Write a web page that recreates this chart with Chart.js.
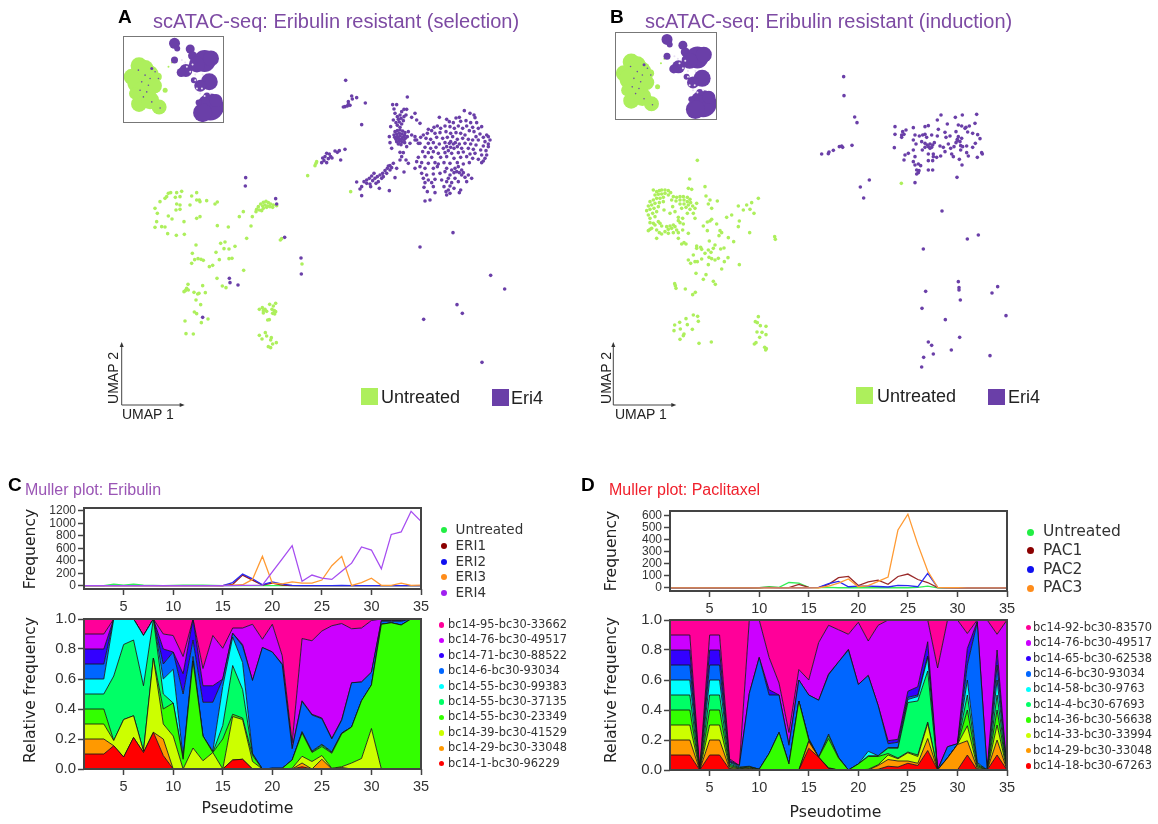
<!DOCTYPE html>
<html><head><meta charset="utf-8">
<script src="https://cdn.jsdelivr.net/npm/chart.js@4/dist/chart.umd.js"></script>
<style>
html,body{margin:0;padding:0;background:#fff;width:1158px;height:824px;overflow:hidden}
#root{position:relative;width:1158px;height:824px;filter:blur(.4px)}
canvas{position:absolute}
.t{position:absolute;white-space:nowrap;line-height:1}
.s{position:absolute}
</style></head><body><div id="root"></div>
<script>
// ---------- Pseudotime axis ----------
const pseudotime=[1,2,3,4,5,6,7,8,9,10,11,12,13,14,15,16,17,18,19,20,21,22,23,24,25,26,27,28,29,30,31,32,33,34,35];
const xTickValues=[5,10,15,20,25,30,35];

// ---------- Panel C frequency series ----------
const eriUntreated=[0,0,0,25,10,25,10,5,2,5,10,8,10,5,2,2,1,1,0,0,0,0,0,0,0,0,0,0,0,0,0,0,0,0,0];
const eri1=[0,0,0,0,0,0,0,0,0,0,0,0,0,0,0,20,170,90,10,40,10,2,0,0,0,0,0,0,0,0,0,0,0,0,0];
const eri2=[0,0,0,0,0,0,0,0,0,0,0,0,0,0,0,50,185,110,15,60,25,5,2,2,2,2,5,2,2,2,2,2,2,2,2];
const eri3=[0,0,0,0,0,0,0,0,0,0,0,0,0,0,2,10,15,100,470,40,30,60,40,40,90,320,470,5,50,120,5,5,40,5,10];
const eri4=[0,0,0,0,0,0,0,0,0,0,0,0,0,0,0,0,5,5,10,220,430,640,70,170,120,100,230,360,620,570,270,820,860,1190,1030];
const cFreqTicks=[0,200,400,600,800,1000,1200];
const cFreqLabels=['Untreated','ERI1','ERI2','ERI3','ERI4'];

// ---------- Panel C Muller band upper edges (relative frequency) ----------
const cTopRed=[.1,.1,.1,.155,.08,.21,.11,.245,.09,0,0,0,0,0,0,.06,.065,0,0,0,0,0,.015,0,0,0,0,0,0,0,0,0,0,0,0];
const cTopOrange=[.2,.2,.2,.155,.08,.21,.11,.245,.2,0,0,0,0,0,0,.06,.065,0,0,0,0,0,.04,0,.065,0,.01,0,0,0,0,0,0,0,0];
const cTopYellow=[.3,.3,.3,.19,.33,.355,.12,.74,.3,.22,0,.14,.055,.11,0,.35,.33,.05,0,0,0,.005,.085,.05,.09,.005,.015,.04,.07,.27,0,0,0,0,0];
const cTopGreen=[.4,.4,.4,.19,.33,.355,.12,.74,.4,.44,.065,.72,.22,.11,.2,.365,.34,.09,0,.005,.005,.06,.24,.11,.15,.105,.235,.28,.455,.56,.965,.975,.96,1,1];
const cTopSpring=[.5,.5,.5,.62,.83,.86,.555,1,.5,.44,.07,.72,.22,.11,.29,.69,.53,.1,0,.005,.005,.06,.245,.115,.16,.11,.24,.28,.455,.56,.965,.975,.96,1,1];
const cTopCyan=[.6,.6,.6,1,1,1,.89,1,.6,.665,.075,.75,.22,.12,.55,.88,.71,.105,0,.005,.005,.06,.25,.12,.165,.115,.24,.28,.455,.56,.965,.975,.96,1,1];
const cTopBlue=[.7,.7,.7,1,1,1,.89,1,.7,.78,.5,.86,.445,.445,.6,.905,.82,.59,.81,.78,.695,.135,.45,.36,.335,.2,.325,.575,.58,.645,.985,.985,.985,1,1];
const cTopIndigo=[.8,.8,.8,1,1,1,.89,1,.8,.78,.635,1,.555,.555,.6,.905,.83,.59,.81,.78,.7,.14,.455,.365,.34,.205,.33,.575,.58,.645,.99,.99,.99,1,1];
const cTopPurple=[.9,.9,.9,1,1,1,.89,1,.9,.89,.75,1,.67,.89,.805,.94,.94,.965,.865,.965,.755,.175,.87,.855,.92,.955,.97,.935,.94,.99,1,1,1,1,1];
const cTopPink=[1,1,1,1,1,1,1,1,1,1,1,1,1,1,1,1,1,1,1,1,1,1,1,1,1,1,1,1,1,1,1,1,1,1,1];
const cBarcodes=['bc14-95-bc30-33662','bc14-76-bc30-49517','bc14-71-bc30-88522','bc14-6-bc30-93034','bc14-55-bc30-99383','bc14-55-bc30-37135','bc14-55-bc30-23349','bc14-39-bc30-41529','bc14-29-bc30-33048','bc14-1-bc30-96229'];

// ---------- Panel D frequency series ----------
const pacUntreated=[0,0,0,2,0,0,0,0,0,2,10,5,45,40,5,3,5,2,2,2,2,2,2,2,2,5,15,0,0,0,0,0,0,0,0];
const pac1=[0,0,0,0,0,0,0,0,0,2,5,3,3,30,5,3,30,85,95,20,50,65,30,95,115,70,45,3,3,2,0,0,2,0,0];
const pac2=[0,0,0,0,0,0,0,0,0,3,3,2,2,2,2,5,35,55,10,15,15,12,8,22,20,10,120,5,2,2,2,2,2,2,2];
const pac3=[0,0,0,0,0,0,0,0,0,0,0,0,0,0,0,2,15,40,75,10,20,55,90,480,610,360,140,5,2,2,0,0,0,0,0];
const dFreqTicks=[0,100,200,300,400,500,600];
const dFreqLabels=['Untreated','PAC1','PAC2','PAC3'];

// ---------- Panel D Muller band upper edges ----------
const dTopRed=[.1,.1,.1,0,.1,.1,.005,0,.005,0,0,0,0,0,.145,.085,.01,0,0,0,0,.005,.025,.02,.045,.03,.13,0,0,0,.1,0,0,.1,0];
const dTopOrange=[.2,.2,.2,0,.2,.2,.01,.005,.01,0,0,0,0,0,.19,.085,.01,0,0,0,0,.03,.07,.06,.06,.045,.21,0,.08,.17,.195,.01,0,.2,0];
const dTopYellow=[.3,.3,.3,0,.3,.3,.02,.008,.015,0,0,0,0,0,.195,.085,.015,0,0,0,.005,.035,.1,.075,.115,.09,.31,0,.08,.17,.295,.02,0,.3,0];
const dTopGreen=[.4,.4,.4,0,.4,.4,.03,.012,.02,.005,.11,.25,.04,.46,.2,.085,.21,.08,0,.04,.09,.09,.11,.08,.12,.1,.32,0,.08,.17,.4,.03,0,.4,0];
const dTopSpring=[.5,.5,.5,0,.5,.5,.04,.016,.022,.005,.11,.25,.04,.46,.205,.085,.23,.085,0,.04,.095,.095,.145,.145,.45,.46,.66,0,.08,.17,.5,.04,0,.5,0];
const dTopCyan=[.6,.6,.6,0,.6,.6,.05,.02,.025,.005,.11,.25,.04,.46,.21,.085,.24,.085,0,.04,.125,.095,.15,.15,.47,.49,.75,0,.08,.17,.6,.05,0,.6,0];
const dTopBlue=[.7,.7,.7,0,.7,.7,.055,.03,.51,.75,.5,.5,.165,.6,.5,.465,.635,.72,.8,.57,.63,.43,.175,.185,.485,.5,.76,0,.155,.175,.7,.985,0,.7,0];
const dTopIndigo=[.8,.8,.8,0,.8,.8,.065,.03,.51,.75,.535,.5,.17,.6,.5,.465,.64,.72,.805,.57,.63,.43,.195,.205,.525,.555,.855,.005,.155,.175,.81,.99,.005,.8,0];
const dTopPurple=[.9,.9,.9,0,.9,.9,.075,.03,1,1,.75,.58,.25,.67,.6,.85,.965,.935,.905,.985,.86,.965,1,1,1,1,1,.68,1,1,.91,1,1,.905,1];
const dTopPink=[1,1,1,1,1,1,1,1,1,1,1,1,1,1,1,1,1,1,1,1,1,1,1,1,1,1,1,1,1,1,1,1,1,1,1];
const dBarcodes=['bc14-92-bc30-83570','bc14-76-bc30-49517','bc14-65-bc30-62538','bc14-6-bc30-93034','bc14-58-bc30-9763','bc14-4-bc30-67693','bc14-36-bc30-56638','bc14-33-bc30-33994','bc14-29-bc30-33048','bc14-18-bc30-67263'];

const relTicks=[0,.2,.4,.6,.8,1];
const bandColors=['#ff0000','#ff9900','#ccff00','#33ff00','#00ff66','#00ffff','#0066ff','#3300ff','#cc00ff','#ff0099'];

// ---------- UMAP panel A cells ----------
const aEri4=[[737,241],[755,288],[770,293],[757,297],[745,305],[735,320],[742,318],[750,316],[730,321],[745,313],[796,309],[785,374],[922,291],
[735,448],[718,452],[712,457],[705,453],[722,480],[688,462],[680,460],[675,470],[668,474],[692,470],[685,476],[672,482],[680,488],[665,488],[696,474],
[770,546],[785,560],[780,567],[785,587],[792,545],[800,540],[808,535],[815,528],[822,520],[800,550],[810,552],[818,542],[825,535],[832,530],[812,560],[840,525],[848,520],[855,512],[862,505],[870,497],[880,490],[860,520],[870,510],[850,530],[845,535],[835,545],[828,550],[865,498],[875,503],[838,565],[868,572],[885,533],[890,505],[912,516],[900,480],[918,480],[925,490],[905,470],
[885,395],[892,392],[900,390],[908,393],[915,398],[882,405],[890,402],[898,400],[906,402],[914,406],[922,410],[884,412],[892,410],[900,408],[908,412],[916,415],[888,418],[896,416],[904,418],[912,420],[890,425],[898,424],[906,426],[914,428],[895,432],[903,434],[900,382],[892,376],[905,372],[898,366],[910,362],[895,358],[888,368],[903,355],[912,350],[900,345],[892,350],[885,340],[905,335],[920,328],[878,314],[890,314],[882,327],[912,328],[918,345],[935,352],[945,340],[950,360],[960,370],[872,380],[880,360],[868,410],[870,428],[875,445],[925,395],[935,405],[945,420],[930,430],[920,440],[910,458],[900,457],[945,410],[955,430],
[1093,332],[1110,340],[1122,345],[1125,353],[1018,352],[1040,358],[1048,365],[1068,354],[1078,352],[1060,368],[1082,364],[1098,362],[1112,368],[1130,368],[1145,380],
[1002,382],[1012,378],[985,388],[995,392],[1022,385],[1035,378],[1050,380],[1063,385],[1075,378],[1088,385],[1100,378],[1118,382],[1135,385],[1122,395],[1108,392],
[970,405],[982,400],[1005,400],[1020,398],[1038,395],[1052,400],[1068,398],[1082,400],[1095,405],[1140,402],[1128,410],[1160,405],[1165,410],[1150,412],
[950,420],[962,412],[978,415],[992,418],[1010,412],[1028,415],[1042,412],[1058,410],[1072,418],[1088,415],[1105,418],[1118,420],[1135,420],[1170,420],[1155,425],[1165,432],
[960,430],[985,430],[1000,428],[1018,432],[1035,428],[1048,430],[1052,425],[1060,432],[1066,428],[1078,432],[1095,430],[1112,432],[1128,435],[1150,438],[1165,440],
[975,442],[992,445],[1008,442],[1030,445],[1040,440],[1052,442],[1062,445],[1072,440],[1085,445],[1105,445],[1120,448],[1142,450],[1158,452],
[968,455],[985,458],[1000,455],[1015,460],[1035,458],[1045,452],[1055,460],[1075,458],[1090,456],[1110,462],[1125,460],[1145,465],[1160,465],
[955,472],[975,470],[995,472],[1022,472],[1040,470],[1062,475],[1082,472],[1100,470],[1118,475],[1135,478],[1155,475],[1150,483],[1145,488],
[950,485],[965,488],[985,490],[1005,488],[1015,492],[1032,488],[1050,490],[1072,488],[1090,492],[1108,488],
[945,505],[960,500],[975,505],[1000,505],[1012,500],[1040,505],[1055,510],[1065,505],[1075,500],[1085,510],[1070,515],[1078,518],[1062,518],[1090,518],
[965,520],[980,525],[1000,522],[1020,520],[1035,515],[1050,525],[1085,525],[1105,525],
[970,535],[985,540],[1005,538],[1025,540],[1045,535],[1065,535],[1095,532],[1115,535],
[975,548],[995,548],[1040,545],[1055,548],[1075,545],[1100,545],
[972,562],[1000,560],[1032,560],[1050,558],[1062,565],[1045,570],[1038,575],[1082,570],[1078,578],
[982,575],[1005,578],[1040,585],[1050,580],[975,603],[990,600],
[437,533],[436,558],[527,596],[530,612],[554,712],[603,774],[604,822],[388,835],[390,848],[414,855],[308,952],[1059,698],[960,741],[1172,826],[1214,867],[1071,914],[1087,940],[971,958],[1146,1087]];
const aUntreated=[[648,490],[645,497],[650,485],[623,527],[752,575],
[470,628],[475,620],[482,612],[490,607],[498,604],[505,608],[512,612],[520,615],[530,617],[488,618],[495,615],[503,618],[478,630],[490,625],[500,622],[510,620],[518,622],[468,635],[485,632],
[430,635],[418,650],[457,650],[453,678],[385,681],[352,677],
[165,625],[180,605],[195,595],[205,580],[212,578],[200,590],[230,578],[245,574],[240,590],[226,592],[290,578],[275,588],[290,600],[298,600],[300,605],[270,615],[230,612],[240,615],[320,602],[345,612],[352,606],[172,640],[205,648],[228,630],[240,628],[216,657],[252,665],[290,655],[300,650],[170,665],[165,682],[185,680],[195,681],
[203,701],[229,706],[253,703],[440,715],[541,720],[545,716],[288,735],[375,726],[362,730],[405,739],[372,746],[387,747],[277,760],[348,757],[387,776],[396,775],[358,779],[284,779],[294,776],[303,778],[310,781],[275,790],[338,796],[328,800],[431,811],[606,792],[351,835],[308,857],[367,858],[378,863],[264,853],[260,865],[252,875],[256,872],[265,870],[282,877],[293,882],[297,880],[316,878],[288,900],[302,914],[283,936],[290,941],[255,963],[304,968],[324,957],[258,1001],[280,1002],
[478,928],[487,923],[490,932],[495,928],[500,934],[490,939],[509,913],[527,910],[520,918],[516,928],[523,932],[527,935],[518,940],[524,942],[503,960],[508,959],
[478,1006],[496,998],[500,1008],[486,1017],[514,1013],[512,1020],[518,1032],[529,1028],[505,1040],[512,1043]];

// ---------- UMAP panel B cells ----------
const bEri4=[[731,230],[732,287],[764,351],[771,368],[756,436],[725,438],[718,440],[728,442],[700,451],[687,456],[685,461],[665,462],[808,540],[781,561],[791,594],[1026,633],[945,548],[1071,532],
[1023,345],[1066,352],[1087,345],[1130,343],[1125,370],[1012,360],[985,377],[975,380],[1042,372],[1015,388],[1075,375],[1085,378],[1095,385],[1108,378],[1098,382],[885,380],[918,390],[908,395],[940,383],[885,403],[905,405],[912,403],[905,412],[1035,397],[1068,395],[1103,396],[1118,400],[1133,404],[1140,416],[945,405],[958,408],[968,405],[975,403],[980,412],[995,405],[1012,408],[1038,412],[1050,408],[1075,410],[1085,415],[1072,418],[1080,425],[1068,428],[1072,422],[1126,430],[883,443],[940,420],[948,432],[965,425],[975,430],[982,435],[990,432],[998,435],[1003,428],[985,440],[975,442],[990,445],[995,442],[1020,438],[1030,442],[1045,432],[1052,445],[1062,440],[1082,437],[1100,438],[1118,442],[1088,440],[940,450],[925,460],[915,465],[912,480],[945,470],[967,450],[985,462],[1000,470],[1010,472],[1022,468],[1035,455],[1055,462],[1060,470],[1082,450],[1100,458],[1105,468],[1132,472],[1145,458],[1147,462],[1078,478],[985,482],[998,482],[940,485],[945,495],[955,492],[962,497],[1086,495],[950,510],[957,512],[955,518],[950,522],[985,510],[998,510],[1000,462],
[1135,705],[1102,717],[970,747],[1075,845],[1077,863],[1077,870],[977,874],[1176,879],[1193,860],[1081,900],[966,925],[1218,947],[1036,959],[1079,1012],[985,1026],[995,1036],[1054,1050],[1000,1062],[971,1072],[1170,1067],[965,1101]];
const bUntreated=[[292,481],[269,537],[904,550],[265,565],[275,568],[315,560],[318,588],[330,600],[352,603],[325,612],[335,625],[475,595],[455,608],[440,615],[415,618],[430,630],[450,628],[462,640],[395,645],[380,652],[335,658],
[160,570],[170,575],[178,572],[185,570],[195,570],[205,572],[212,578],[165,585],[175,583],[185,582],[195,580],[205,585],[220,590],[230,592],[240,590],[250,590],[262,592],[270,598],[150,605],[160,600],[170,595],[180,595],[190,592],[215,600],[228,603],[240,600],[252,600],[262,605],[272,608],[145,618],[155,615],[165,610],[178,608],[190,605],[240,612],[252,612],[265,615],[278,618],[290,610],[140,632],[150,628],[162,625],[175,620],[245,625],[258,622],[270,628],[285,625],[145,645],[158,640],[170,635],[192,630],[218,620],[210,640],[225,635],[262,640],[280,640],[150,655],[165,650],[235,652],[248,655],[285,655],
[150,688],[145,692],[155,685],[160,670],[150,668],[165,675],[175,665],[180,670],[185,678],[170,690],[178,698],[185,702],[170,715],[200,680],[205,688],[210,678],[215,685],[220,675],[225,680],[230,690],[235,698],[235,715],[195,695],[205,700],[220,698],[240,668],[235,662],[250,672],[248,690],[265,700],[310,678],[322,666],[330,663],[350,672],[322,692],[360,692],[365,698],[357,707],[415,680],[418,663],[449,698],[524,710],[526,718],
[245,732],[252,728],[258,732],[328,723],[385,713],[401,725],[290,738],[302,742],[290,745],[305,748],[345,735],[340,745],[325,750],[333,757],[315,760],[362,747],[372,744],[280,765],[305,777],[265,780],[272,790],[285,785],[292,785],[327,772],[335,776],[345,780],[355,775],[384,773],[373,785],[325,794],[418,794],[365,807],[288,820],[318,824],[310,838],[340,844],[346,853],
[224,851],[226,857],[228,865],[256,867],[278,884],[286,877],
[280,945],[293,949],[258,956],[239,967],[295,964],[224,975],[262,974],[241,987],[277,988],[222,992],[252,1002],[250,1007],[240,1018],[297,1030],[334,1026],
[475,950],[466,965],[472,968],[481,977],[498,979],[471,996],[486,997],[498,1004],[479,1012],[468,1028],[463,1032],[494,1042],[497,1050],[499,1046]];

// ---------- Inset thumbnails: estimated cell masses (UMAP position, radius) ----------
const insetGreenMasses=[[72,122,8.5],[50,155,8],[70,172,11],[100,150,10.5],[88,200,11.5],[72,236,8],[105,225,9],[132,245,7.5],[118,182,7.5],[128,155,4],[90,130,8.5],[60,205,6],[150,195,2.5],[160,125,1],[170,112,1]];
const insetPurpleMasses=[[178,55,5.5],[186,70,3],[225,72,4.5],[232,92,4.5],[268,108,11],[245,118,8],[287,100,8],[212,136,6.5],[198,142,4.5],[178,105,3.5],[282,170,8.5],[255,182,6],[236,165,3],[285,245,13.5],[262,262,9.5],[302,226,6.5],[250,232,3],[275,212,3.5],[110,130,1.5]];
const insetSpecks=[[80,170],[95,200],[85,215],[100,180],[90,150],[75,195],[105,160],[130,160],[70,135],[110,230],[120,140],[135,248]];
const insetGaps=[[240,165],[255,205],[268,212],[285,205],[245,190],[225,140],[215,125],[232,118],[260,190],[262,148],[240,148],[200,105],[210,112]];

// ---------- Colours ----------
const umapGreen='#adef5c', umapPurple='#6a3fa8', ink='#444';

const root=document.getElementById('root');
function txt(s,x,y,o={}){
  const e=document.createElement('div');e.className='t';e.textContent=s;
  e.style.left=x+'px';e.style.top=y+'px';
  e.style.fontFamily=o.font||'"Liberation Sans"';e.style.fontSize=(o.size||14)+'px';
  e.style.color=o.color||'#222';e.style.fontWeight=o.bold?'700':'400';
  e.style.transform=o.rotate?'translate(-50%,-50%) rotate(-90deg)':(o.center?'translate(-50%,-50%)':'translateY(-50%)');
  root.appendChild(e);
}
function box(x,y,w,h,c,round){
  const e=document.createElement('div');e.className='s';
  e.style.cssText+=`left:${x}px;top:${y}px;width:${w}px;height:${h}px;background:${c};`+(round?'border-radius:50%;':'');
  root.appendChild(e);
}
function canvas(x,y,w,h){
  const c=document.createElement('canvas');c.width=w;c.height=h;
  c.style.left=x+'px';c.style.top=y+'px';c.style.width=w+'px';c.style.height=h+'px';
  root.appendChild(c);return c;
}
const frame=(color,width)=>({id:'frame',afterDraw(ch){const a=ch.chartArea,g=ch.ctx;g.save();g.strokeStyle=color;g.lineWidth=width;g.strokeRect(a.left,a.top,a.right-a.left,a.bottom-a.top);g.restore();}});

function plot(area,datasets,yCfg){
  const L=60,R=30,T=20,B=40;
  const c=canvas(area.x-L,area.y-T,area.w+L+R,area.h+T+B);
  new Chart(c,{type:'line',data:{labels:pseudotime,datasets},
    plugins:[frame(ink,2)],
    options:{responsive:false,animation:false,events:[],
      layout:{autoPadding:false,padding:{left:0,right:R,top:T,bottom:0}},
      plugins:{legend:{display:false},tooltip:{enabled:false}},
      elements:{point:{radius:0},line:{tension:0}},
      scales:{
        x:{type:'linear',min:1,max:35,
          afterFit(s){s.height=B},
          afterBuildTicks(s){s.ticks=xTickValues.map(v=>({value:v}))},
          grid:{drawOnChartArea:false,tickLength:6,tickColor:ink,tickWidth:1.5},border:{display:false},
          ticks:{font:{family:'"Liberation Sans"',size:14.5},color:'#333',maxRotation:0,autoSkip:false,padding:3}},
        y:{min:yCfg.min,max:yCfg.max,
          afterFit(s){s.width=L},
          afterBuildTicks(s){s.ticks=yCfg.ticks.map(v=>({value:v}))},
          grid:{drawOnChartArea:false,tickLength:6,tickColor:ink,tickWidth:1.5},border:{display:false},
          ticks:{font:{family:'"Liberation Sans"',size:yCfg.size},color:'#333',autoSkip:false,padding:2,callback:yCfg.fmt}}
      }}});
}
function freqSets(list){return list.map(([d,c])=>({data:d,borderColor:c,borderWidth:1.3,fill:false}));}
function bandSets(tops){return tops.map((d,i)=>({data:d,backgroundColor:bandColors[i],borderColor:'rgba(20,20,20,.85)',borderWidth:1,fill:i?'-1':'origin'}));}
const f1=v=>Number(v).toFixed(1), f0=v=>String(v);

// Panel C
plot({x:84,y:508,w:337,h:81},freqSets([[eri4,'#a64df0'],[eri3,'#ff9a33'],[eri2,'#2a2af0'],[eri1,'#9a1a1a'],[eriUntreated,'#33ee55']]),{min:-53,max:1243,ticks:cFreqTicks,size:12,fmt:f0});
plot({x:84,y:619,w:337,h:150},bandSets([cTopRed,cTopOrange,cTopYellow,cTopGreen,cTopSpring,cTopCyan,cTopBlue,cTopIndigo,cTopPurple,cTopPink]),{min:0,max:1,ticks:relTicks,size:15,fmt:f1});
// Panel D
plot({x:670,y:511,w:337,h:80},freqSets([[pac3,'#ff9a33'],[pac2,'#2a2af0'],[pac1,'#9a2a2a'],[pacUntreated,'#33ee55']]),{min:-25,max:636,ticks:dFreqTicks,size:12,fmt:f0});
plot({x:670,y:620,w:337,h:150},bandSets([dTopRed,dTopOrange,dTopYellow,dTopGreen,dTopSpring,dTopCyan,dTopBlue,dTopIndigo,dTopPurple,dTopPink]),{min:0,max:1,ticks:relTicks,size:15,fmt:f1});

// UMAP panels
function umap(x,y,w,h,xMax,yMax,green,purple){
  const c=canvas(x,y,w,h);
  const pts=a=>a.map(([px,py])=>({x:px,y:py}));
  new Chart(c,{type:'scatter',data:{datasets:[
    {data:pts(purple),backgroundColor:umapPurple,pointRadius:1.8,borderWidth:0},
    {data:pts(green),backgroundColor:umapGreen,pointRadius:1.8,borderWidth:0}]},
    options:{responsive:false,animation:false,events:[],layout:{autoPadding:false,padding:0},plugins:{legend:{display:false},tooltip:{enabled:false}},
      scales:{x:{display:false,min:0,max:xMax},y:{display:false,min:0,max:yMax,reverse:true}}}});
}
umap(100,0,460,440,1380,1320,aUntreated,aEri4);
umap(600,0,440,440,1320,1320,bUntreated,bEri4);

function inset(x,y,w,h){
  const c=canvas(x,y,w,h);
  const bub=a=>a.map(([bx,by,r])=>({x:bx,y:by,r}));
  const sp=(a,r)=>a.map(([bx,by])=>({x:bx,y:by,r}));
  new Chart(c,{type:'bubble',data:{datasets:[
    {data:sp(insetSpecks,.8),backgroundColor:'#6a4fa0',borderWidth:0},
    {data:sp(insetGaps,1),backgroundColor:'#e9e0f3',borderWidth:0},
    {data:bub(insetPurpleMasses),backgroundColor:umapPurple,borderWidth:0},
    {data:bub(insetGreenMasses),backgroundColor:umapGreen,borderWidth:0}]},
    plugins:[{id:'bg',beforeDraw(ch){const g=ch.ctx;g.fillStyle='#fff';g.fillRect(0,0,ch.width,ch.height);}},frame('#777',2)],
    options:{responsive:false,animation:false,events:[],layout:{autoPadding:false,padding:0},plugins:{legend:{display:false},tooltip:{enabled:false}},
      scales:{x:{display:false,min:24,max:326},y:{display:false,min:33,max:293,reverse:true}}}});
}
inset(123,36,101,87);
inset(615,32,102,88);

// UMAP arrows
const svg=document.createElementNS('http://www.w3.org/2000/svg','svg');
svg.setAttribute('width',1158);svg.setAttribute('height',824);svg.style.cssText='position:absolute;left:0;top:0;pointer-events:none';
[[121.7,405],[613.3,405]].forEach(([ox,oy])=>{
  svg.innerHTML+=`<path d="M${ox} ${oy-60}V${oy}H${ox+60}" fill="none" stroke="#444" stroke-width="1"/>
  <path d="M${ox-2} ${oy-58}L${ox} ${oy-63}L${ox+2} ${oy-58}Z" fill="#333"/>
  <path d="M${ox+58} ${oy-2}L${ox+63} ${oy}L${ox+58} ${oy+2}Z" fill="#333"/>`;
});
root.appendChild(svg);

// Titles and letters
const titleViolet='#7d4aa3';
txt('A',118,16,{bold:true,size:19,color:'#000'});
txt('scATAC-seq: Eribulin resistant (selection)',153,21,{size:20,color:titleViolet});
txt('B',610,16,{bold:true,size:19,color:'#000'});
txt('scATAC-seq: Eribulin resistant (induction)',645,21,{size:20,color:titleViolet});
txt('UMAP 2',113,378,{rotate:true,size:14});
txt('UMAP 1',122,414,{size:14});
txt('UMAP 2',606,378,{rotate:true,size:14});
txt('UMAP 1',615,414,{size:14});

// UMAP legends
box(361,388,16.5,16.5,umapGreen);txt('Untreated',381,397,{size:18});
box(492,389,16.5,16.5,umapPurple);txt('Eri4',511,398,{size:18});
box(856,387,16.5,16.5,umapGreen);txt('Untreated',877,396,{size:18});
box(988,388.5,16.5,16.5,umapPurple);txt('Eri4',1008,397,{size:18});

// Muller headers
txt('C',8,484,{bold:true,size:19,color:'#000'});
txt('Muller plot: Eribulin',25,490,{size:16,color:'#9a55b5'});
txt('D',581,484,{bold:true,size:19,color:'#000'});
txt('Muller plot: Paclitaxel',609,490,{size:16,color:'#f0202c'});

// Axis titles
const dv='"DejaVu Sans"';
txt('Frequency',31,548.5,{rotate:true,size:15.6,font:dv});
txt('Relative frequency',31,690,{rotate:true,size:15.6,font:dv});
txt('Pseudotime',247.5,808,{center:true,size:15.7,font:dv});
txt('Frequency',612,551,{rotate:true,size:15.6,font:dv});
txt('Relative frequency',612,690,{rotate:true,size:15.6,font:dv});
txt('Pseudotime',835.5,812,{center:true,size:15.7,font:dv});

// Frequency legends
const cDot=['#22ee44','#8b0000','#1010f0','#ff8c1a','#a020f0'];
const cLegY=[530,546,561.7,577.3,593.3];
cFreqLabels.forEach((s,i)=>{box(440.5,cLegY[i]-3,6,6,cDot[i],true);txt(s,455.5,cLegY[i],{size:13.5,font:dv,color:'#333'});});
const dDot=['#22ee44','#8b0000','#1010f0','#ff8c1a'];
const dLegY=[532,550.7,569.7,588.3];
dFreqLabels.forEach((s,i)=>{box(1026.5,dLegY[i]-3.5,7,7,dDot[i],true);txt(s,1043,dLegY[i],{size:15.5,font:dv,color:'#333'});});

// Barcode legends (top band first)
const cBarY=[625,640.3,655.7,671,686.7,702,717.3,733,748.3,763.7];
const legendOrder=bandColors.slice().reverse();
cBarcodes.forEach((s,i)=>{box(438.5,cBarY[i]-2.75,5.5,5.5,legendOrder[i],true);txt(s,448,cBarY[i],{size:11.4,font:dv,color:'#333'});});
const dBarY=[627.7,643,658.7,674,689.3,704.7,720,735.3,750.7,766];
dBarcodes.forEach((s,i)=>{box(1025.5,dBarY[i]-2.75,5.5,5.5,legendOrder[i],true);txt(s,1033,dBarY[i],{size:11.4,font:dv,color:'#333'});});
</script></body></html>
